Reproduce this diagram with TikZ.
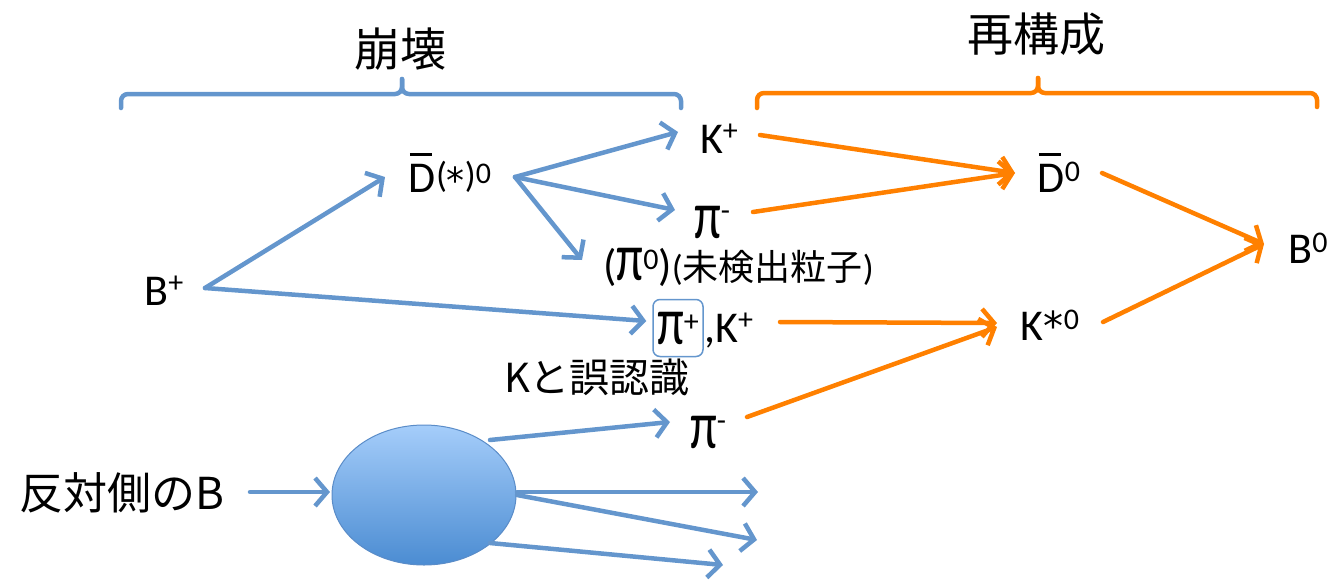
\documentclass[tikz,border=0pt]{standalone}
\usepackage{fontspec}
\usepackage{graphicx}
\setmainfont{Carlito}
\newfontfamily\jp{Noto Sans CJK JP}
\newfontfamily\dv{DejaVu Sans}
\usetikzlibrary{arrows.meta,shapes.geometric}
\definecolor{bl}{RGB}{100,150,205}
\definecolor{og}{RGB}{255,128,0}
\definecolor{elltop}{RGB}{165,205,250}
\definecolor{ellbot}{RGB}{75,140,210}
\definecolor{ellline}{RGB}{90,140,200}
\newcommand\su[2][13pt]{\raisebox{#1}{\fontsize{30}{32}\selectfont #2}}
\newcommand\PI{\scalebox{1.1}[1.55]{π}}
\newcommand\barD{\leavevmode\rlap{\hspace{1pt}\rule[36pt]{22pt}{3pt}}D}
\begin{document}
\begin{tikzpicture}[x=1pt,y=-1pt,
  lbl/.style={inner sep=0pt, font=\fontsize{44}{50}\selectfont},
  jlbl/.style={inner sep=0pt, font=\jp\fontsize{40}{46}\selectfont},
  jtitle/.style={inner sep=0pt, font=\jp\fontsize{46}{52}\selectfont},
  barrow/.style={draw=bl, line width=4.5pt, line cap=round, -{Straight Barb[length=12pt,width=28pt]}},
  oarrow/.style={draw=og, line width=4.5pt, line cap=round, -{Straight Barb[length=12pt,width=28pt]}},
  bracebl/.style={draw=bl, line width=4.5pt, line cap=round, rounded corners=7pt},
  braceog/.style={draw=og, line width=4.5pt, line cap=round, rounded corners=7pt}]
\useasboundingbox (0,0) rectangle (1330,579);
% titles and braces
\node[jtitle] (T1) at (400,49) {崩壊};
\node[jtitle] (T2) at (1036,34) {再構成};
\draw[bracebl] (121,108) -- (121,94) -- (402,94) -- (402,79);
\draw[bracebl] (402,79) -- (402,94) -- (681,94) -- (681,108);
\draw[braceog] (757,108) -- (757,93) -- (1038,93) -- (1038,78);
\draw[braceog] (1038,78) -- (1038,93) -- (1317,93) -- (1317,107);
% particles
\node[lbl, anchor=base] (Bp) at (164,305) {B\su{+}};
\node[lbl, anchor=base] (Dbar) at (450,192) {\barD\raisebox{5pt}{\fontsize{36}{40}\selectfont(\raisebox{-6pt}{\dv *})}\su[9pt]{0}};
\node[lbl, anchor=base] (Kp) at (719,153) {K\su{+}};
\node[lbl, anchor=base] (Pim1) at (712,238) {\PI\su[18pt]{-}};
\node[lbl, anchor=base west] (Pi0) at (603,280) {(\PI\su[11pt]{0}){\fontsize{36}{40}\selectfont({\jp 未検出粒子})}};
\node[lbl, draw=bl, line width=1.5pt, rounded corners=7pt, minimum width=50, minimum height=57] (Pip) at (678,328) {\PI\su{+}};
\node[lbl, anchor=base west] (Kp2) at (704,342) {,K\su{+}};
\node[jlbl] (Kmis) at (597,377) {Kと誤認識};
\node[lbl, anchor=base] (Pim2) at (708,448) {\PI\su[18pt]{-}};
\node[lbl, anchor=base] (D0) at (1059,192) {\barD\su[11pt]{0}};
\node[lbl, anchor=base] (B0) at (1308,263) {B\su[11pt]{0}};
\node[lbl, anchor=base] (Ks) at (1050,340) {K{\dv\fontsize{40}{40}\selectfont *}\su[11pt]{0}};
\node[jlbl, font=\jp\fontsize{44}{50}\selectfont] (Opp) at (122,493) {反対側のB};
\node[ellipse, draw=ellline, line width=1pt, top color=elltop, bottom color=ellbot, minimum width=184, minimum height=140, inner sep=0pt] (Ell) at (424,495) {};
\coordinate (e1) at (758,492);
\coordinate (e2) at (757,540);
\coordinate (e3) at (723,565);
% blue (decay) arrows
\draw[barrow] ([shift={(41,-17)}]Bp.base) -- ([shift={(-65,-15)}]Dbar.base);
\draw[barrow] ([shift={(41,-17)}]Bp.base) -- ([shift={(-6,-7)}]Pip.west);
\draw[barrow] ([shift={(65,-15)}]Dbar.base) -- ([shift={(-41,-21)}]Kp.base);
\draw[barrow] ([shift={(65,-15)}]Dbar.base) -- ([shift={(-37,-28)}]Pim1.base);
\draw[barrow] ([shift={(65,-15)}]Dbar.base) -- ([shift={(-21,-20)}]Pi0.base west);
\draw[barrow] ([shift={(66,-55)}]Ell.center) -- ([shift={(-38,-26)}]Pim2.base);
\draw[barrow] ([shift={(128,-1)}]Opp.center) -- ([shift={(-94,-3)}]Ell.center);
\draw[barrow] ([shift={(93,-3)}]Ell.center) -- (e1);
\draw[barrow] ([shift={(93,0)}]Ell.center) -- (e2);
\draw[barrow] ([shift={(66,48)}]Ell.center) -- (e3);
% orange (reconstruction) arrows
\draw[oarrow] ([shift={(41,-18)}]Kp.base) -- ([shift={(-44,-19)}]D0.base);
\draw[oarrow] ([shift={(41,-26)}]Pim1.base) -- ([shift={(-44,-19)}]D0.base);
\draw[oarrow] ([shift={(43,-19)}]D0.base) -- ([shift={(-44,-19)}]B0.base);
\draw[oarrow] ([shift={(53,-18)}]Ks.base) -- ([shift={(-44,-19)}]B0.base);
\draw[oarrow] ([shift={(76,-20)}]Kp2.base west) -- ([shift={(-53,-17)}]Ks.base);
\draw[oarrow] ([shift={(39,-31)}]Pim2.base) -- ([shift={(-53,-13)}]Ks.base);
\end{tikzpicture}
\end{document}
